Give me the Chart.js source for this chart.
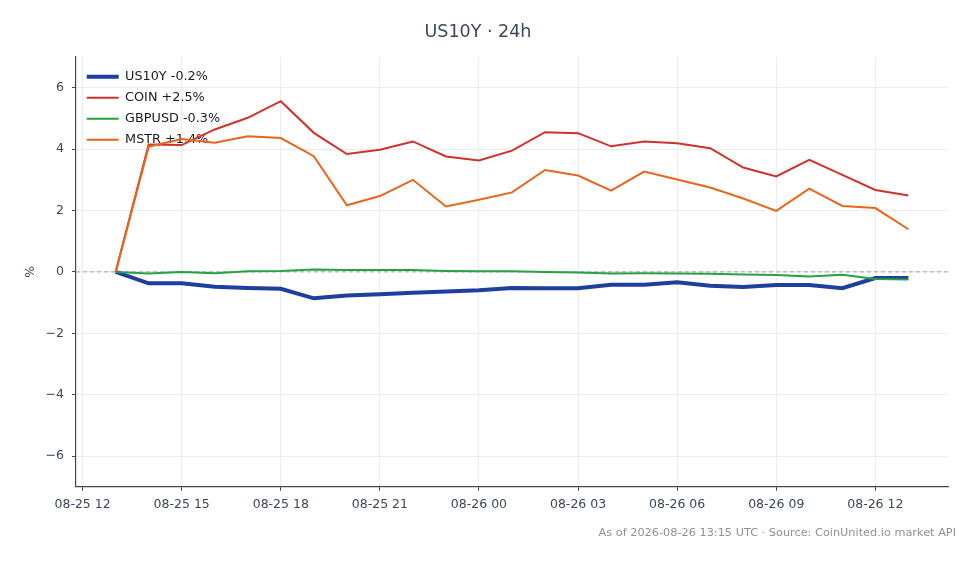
<!DOCTYPE html>
<html><head><meta charset="utf-8">
<script src="https://cdn.jsdelivr.net/npm/chart.js@4.4.1/dist/chart.umd.min.js"></script>
<style>html,body{margin:0;padding:0;background:#fff}#wrap{position:relative;width:980px;height:564px}</style>
</head><body><div id="wrap"><canvas id="c"></canvas></div>
<script>
const times = ['2026-08-25T13:00','2026-08-25T14:00','2026-08-25T15:00','2026-08-25T16:00','2026-08-25T17:00',
  '2026-08-25T18:00','2026-08-25T19:00','2026-08-25T20:00','2026-08-25T21:00','2026-08-25T22:00',
  '2026-08-25T23:00','2026-08-26T00:00','2026-08-26T01:00','2026-08-26T02:00','2026-08-26T03:00',
  '2026-08-26T04:00','2026-08-26T05:00','2026-08-26T06:00','2026-08-26T07:00','2026-08-26T08:00',
  '2026-08-26T09:00','2026-08-26T10:00','2026-08-26T11:00','2026-08-26T12:00','2026-08-26T13:00'];
const us10y  = [0,-0.37,-0.37,-0.48,-0.52,-0.55,-0.86,-0.77,-0.73,-0.68,-0.64,-0.60,-0.52,-0.53,-0.53,-0.42,-0.42,-0.34,-0.45,-0.49,-0.43,-0.43,-0.53,-0.20,-0.20];
const coin   = [0,4.15,4.13,4.64,5.02,5.56,4.53,3.84,3.98,4.25,3.76,3.63,3.95,4.55,4.52,4.09,4.25,4.19,4.03,3.40,3.11,3.65,3.16,2.67,2.49];
const gbpusd = [0,-0.05,0,-0.04,0.02,0.03,0.08,0.06,0.06,0.06,0.03,0.02,0.02,0,-0.02,-0.05,-0.04,-0.05,-0.06,-0.08,-0.10,-0.15,-0.09,-0.23,-0.25];
const mstr   = [0,4.08,4.33,4.21,4.42,4.36,3.77,2.17,2.47,3.00,2.13,2.35,2.59,3.32,3.14,2.65,3.27,3.01,2.75,2.39,1.99,2.71,2.15,2.08,1.39];
const seriesLabels = ['US10Y -0.2%','COIN +2.5%','GBPUSD -0.3%','MSTR +1.4%'];
const xTickTimes = ['2026-08-25T12:00','2026-08-25T15:00','2026-08-25T18:00','2026-08-25T21:00','2026-08-26T00:00',
  '2026-08-26T03:00','2026-08-26T06:00','2026-08-26T09:00','2026-08-26T12:00'];
const yTicks = [-6,-4,-2,0,2,4,6];
const titleText = 'US10Y · 24h';
const footerText = 'As of 2026-08-26 13:15 UTC · Source: CoinUnited.io market API';

const base = Date.parse('2026-08-25T00:00Z');
const toH = t => (Date.parse(t + 'Z') - base) / 3.6e6;
const xs = times.map(toH);
const span = xs[xs.length-1] - xs[0];
const xTickVals = xTickTimes.map(toH);
const pts = arr => arr.map((v,i) => ({x: xs[i], y: v}));
const pad2 = n => String(n).padStart(2,'0');
const fmtX = v => { const d = new Date(base + v*3.6e6); return pad2(d.getUTCMonth()+1)+'-'+pad2(d.getUTCDate())+' '+pad2(d.getUTCHours()); };

Chart.defaults.font.family = 'DejaVu Sans';
const ink = '#3c4858';

const zeroLine = { id:'zeroLine', beforeDatasetsDraw(chart){
  const {ctx, chartArea:a, scales:{y}} = chart; const py = y.getPixelForValue(0);
  ctx.save(); ctx.strokeStyle='#9aa2b4'; ctx.lineWidth=1; ctx.setLineDash([4,3]);
  ctx.beginPath(); ctx.moveTo(a.left,py); ctx.lineTo(a.right,py); ctx.stroke(); ctx.restore(); } };
const legendNudge = { id:'legendNudge', afterLayout(chart){ if(chart.legend){
  chart.legend.left = chart.chartArea.left + 2.5; chart.legend.top = chart.chartArea.top + 5.1; } } };

const mk = (label, data, color, w, order) => ({label, data: pts(data), borderColor: color, backgroundColor: color,
  borderWidth: w, pointRadius: 0, tension: 0, fill: false, order});

new Chart(document.getElementById('c'), {
  type: 'line',
  data: { datasets: [
    mk(seriesLabels[0], us10y, '#1f3fa0', 4, 4),
    mk(seriesLabels[1], coin, '#d0312d', 2, 3),
    mk(seriesLabels[2], gbpusd, '#27a046', 2, 2),
    mk(seriesLabels[3], mstr, '#e8651c', 2, 1)
  ]},
  options: {
    responsive: true, maintainAspectRatio: false, animation: false,
    layout: { padding: { left: 0, right: 24, top: 0, bottom: 0 } },
    plugins: {
      title: { display: true, text: titleText, color: ink, font: { size: 17.5, weight: 'normal' }, padding: { top: 21.5, bottom: 14.5 } },
      subtitle: { display: true, position: 'bottom', align: 'end', text: footerText, color: '#8c919a', font: { size: 11.3 }, padding: { top: 4, bottom: 24.2 } },
      legend: { position: 'chartArea', align: 'start',
        labels: { usePointStyle: true, pointStyle: 'line', pointStyleWidth: 32, boxWidth: 32, padding: 8.2,
          color: '#1a1a1a', font: { size: 12.8 }, sort: (a,b) => a.datasetIndex - b.datasetIndex } },
      tooltip: { enabled: false }
    },
    scales: {
      x: { type: 'linear', min: xs[0] - 0.05*span, max: xs[xs.length-1] + 0.05*span,
        afterBuildTicks: s => { s.ticks = xTickVals.map(v => ({value: v})); },
        afterFit: s => { s.height = 35.4; s.paddingRight = 32; },
        ticks: { callback: v => fmtX(v), autoSkip: false, maxRotation: 0, color: ink, font: { size: 12.5 }, padding: 6.5 },
        grid: { color: '#e6e9ee', lineWidth: 0.8, tickColor: ink, tickLength: 4, tickWidth: 1 },
        border: { color: ink, width: 1.2 } },
      y: { min: -7, max: 7,
        afterBuildTicks: s => { s.ticks = yTicks.map(v => ({value: v})); },
        afterFit: s => { s.width = 76; },
        ticks: { callback: v => (v < 0 ? '\u2212' + Math.abs(v) : String(v)), color: ink, font: { size: 12.5 }, padding: 8 },
        grid: { color: '#e6e9ee', lineWidth: 0.8, tickColor: ink, tickLength: 4, tickWidth: 1 },
        border: { color: ink, width: 1.2 },
        title: { display: true, text: '%', color: ink, font: { size: 12.5 }, padding: { top: 23.5, bottom: 0 } } }
    }
  },
  plugins: [zeroLine, legendNudge]
});
</script></body></html>
